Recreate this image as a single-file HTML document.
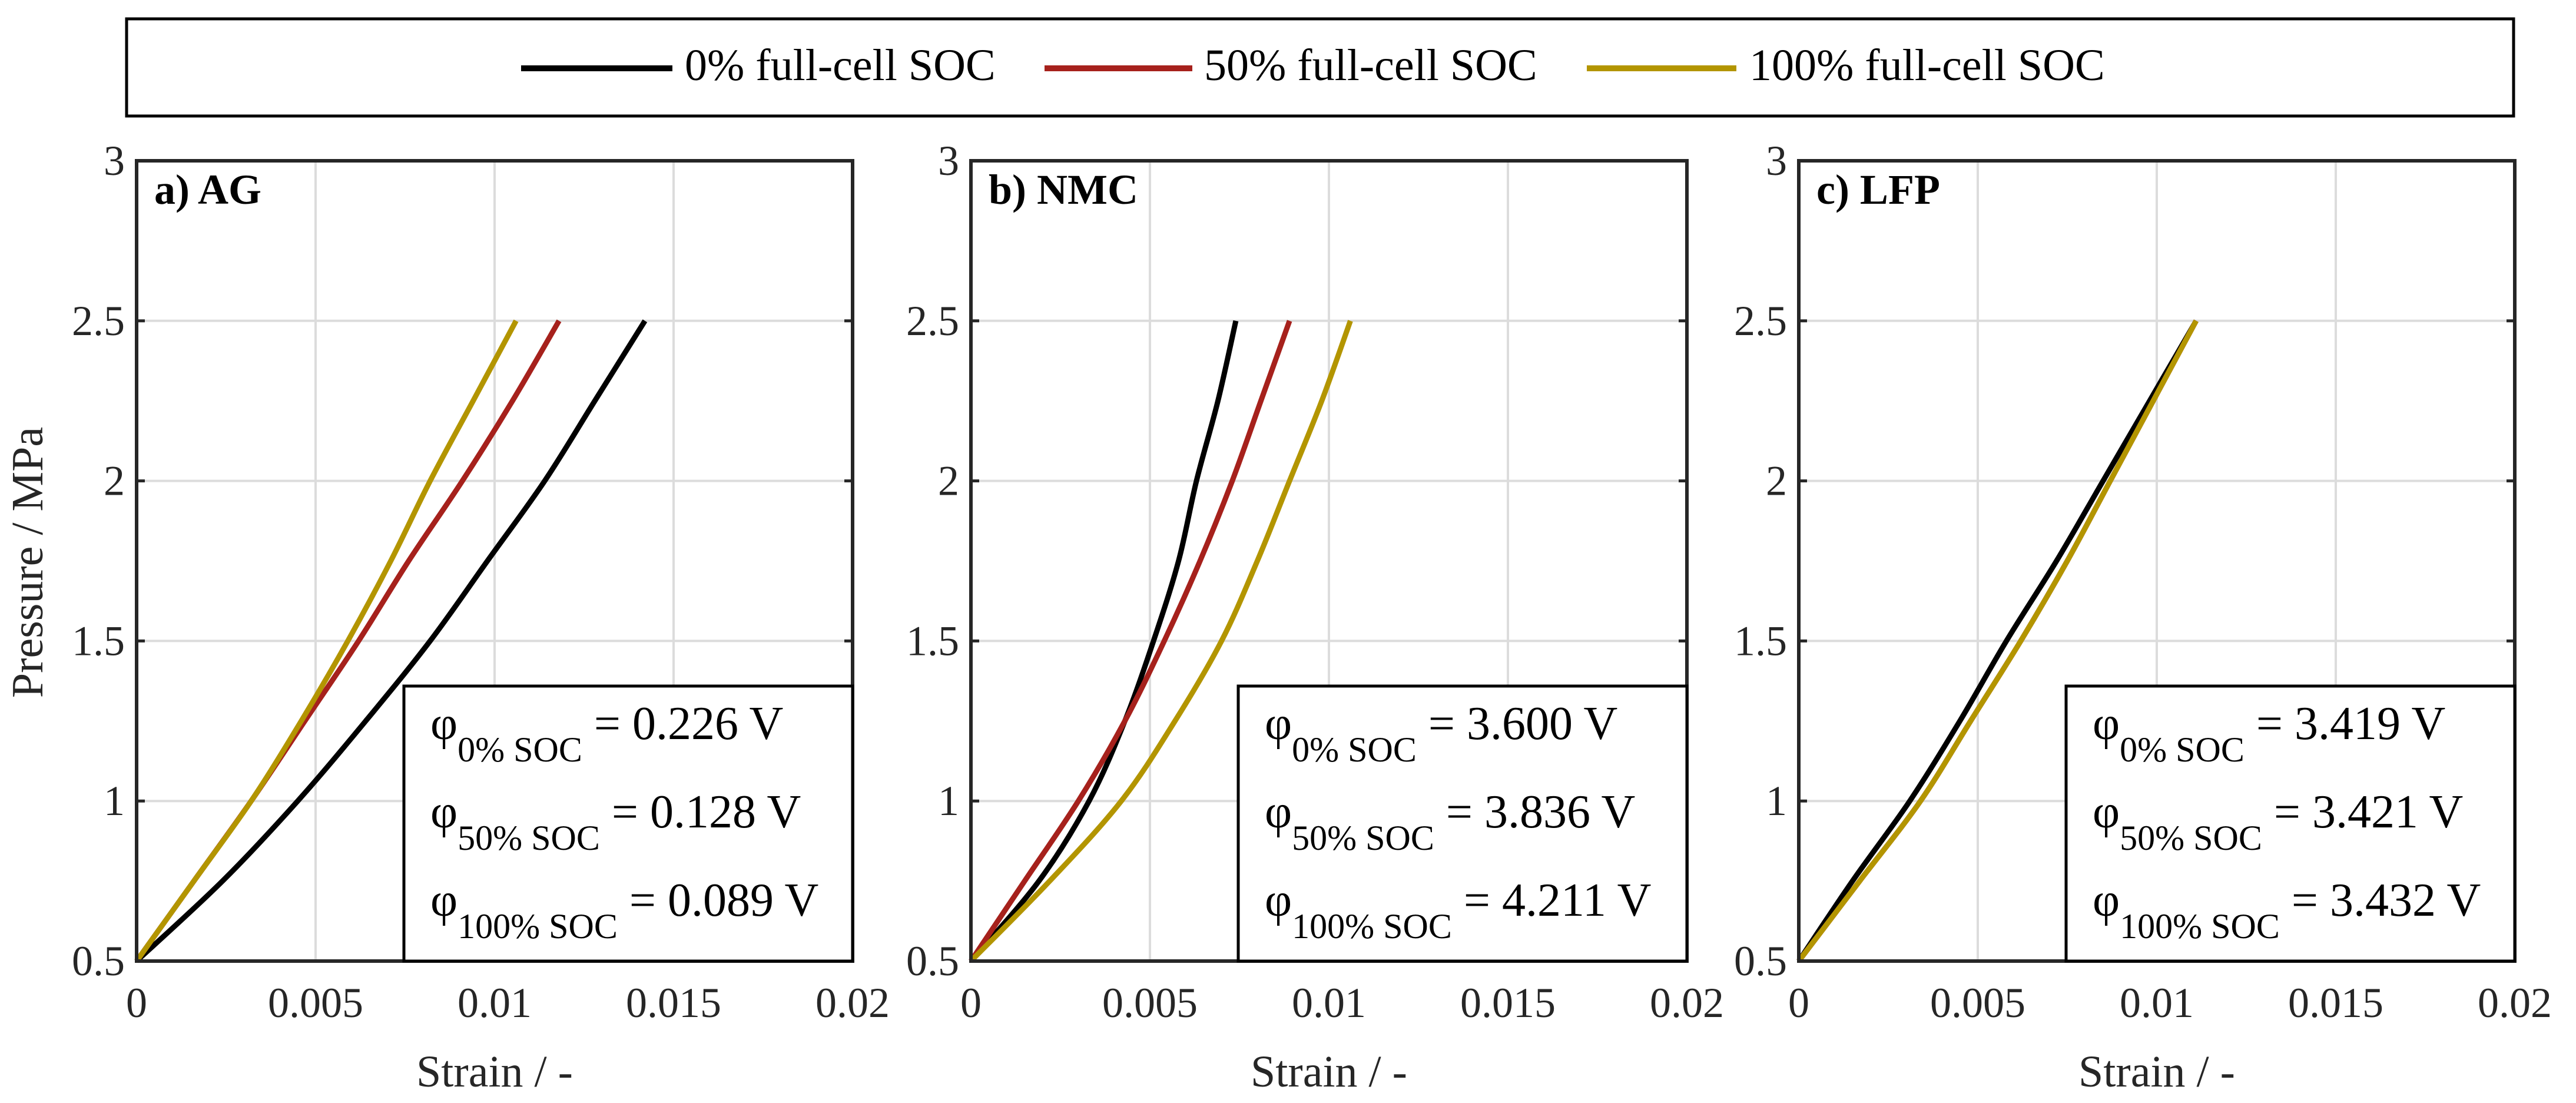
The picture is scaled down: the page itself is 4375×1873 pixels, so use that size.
<!DOCTYPE html>
<html><head><meta charset="utf-8"><style>
html,body{margin:0;padding:0;background:#fff;}
svg{display:block;font-family:"Liberation Serif",serif;}
</style></head><body>
<svg id="fig" width="4375" height="1873" viewBox="0 0 4375 1873" xmlns="http://www.w3.org/2000/svg">
<g>
<rect x="215" y="32" width="4054" height="165" fill="#fff" stroke="#000" stroke-width="5"/>
<line x1="885" y1="116" x2="1142" y2="116" stroke="#000" stroke-width="10"/>
<text x="1163" y="136" font-size="76">0% full-cell SOC</text>
<line x1="1774" y1="116" x2="2025" y2="116" stroke="#A6211C" stroke-width="10"/>
<text x="2045" y="136" font-size="76">50% full-cell SOC</text>
<line x1="2695" y1="116" x2="2949" y2="116" stroke="#B39500" stroke-width="10"/>
<text x="2971" y="136" font-size="76">100% full-cell SOC</text>
</g>
<text transform="translate(72,955) rotate(-90)" text-anchor="middle" font-size="76" fill="#262626">Pressure / MPa</text>
</svg>
<script>
const xTicks=[0,0.005,0.01,0.015,0.02];
const xTickLabels=["0","0.005","0.01","0.015","0.02"];
const yTicks=[0.5,1,1.5,2,2.5,3];
const yTickLabels=["0.5","1","1.5","2","2.5","3"];
const seriesColors=["#000000","#A6211C","#B39500"];
const seriesKeys=["0","50","100"];
const pressureLevels=[0.5,0.75,1.0,1.25,1.5,1.75,2.0,2.25,2.5];
// strain at each pressure level, per panel and series
const agStrain0=[0,0.0024,0.0045,0.0064,0.0082,0.0098,0.0114,0.0128,0.0142];
const agStrain50=[0,0.0016,0.0032,0.0047,0.0062,0.0076,0.0091,0.0105,0.0118];
const agStrain100=[0,0.0016,0.0032,0.0046,0.0059,0.0071,0.0082,0.0094,0.0106];
const nmcStrain0=[0,0.0019,0.0033,0.0043,0.0051,0.0058,0.0063,0.0069,0.0074];
const nmcStrain50=[0,0.0015,0.0030,0.0043,0.0054,0.0064,0.0073,0.0081,0.0089];
const nmcStrain100=[0,0.0022,0.0042,0.0057,0.0070,0.0080,0.0089,0.0098,0.0106];
const lfpStrain0=[0,0.0015,0.0031,0.0045,0.0058,0.0072,0.0085,0.0098,0.0111];
const lfpStrain50=[0,0.0017,0.0034,0.0048,0.0062,0.0075,0.0087,0.0099,0.0111];
const lfpStrain100=[0,0.0017,0.0034,0.0048,0.0062,0.0075,0.0087,0.0099,0.0111];
const panelTitles=["a) AG","b) NMC","c) LFP"];
const panelPhiLabels=[["0.226","0.128","0.089"],["3.600","3.836","4.211"],["3.419","3.421","3.432"]];
const panelSeries=[[agStrain0,agStrain50,agStrain100],[nmcStrain0,nmcStrain50,nmcStrain100],[lfpStrain0,lfpStrain50,lfpStrain100]];
const panelLeft=[232,1649,3055];

const NS="http://www.w3.org/2000/svg";
const svg=document.getElementById('fig');
function mk(tag,attrs,parent){const e=document.createElementNS(NS,tag);for(const k in attrs)e.setAttribute(k,attrs[k]);(parent||svg).appendChild(e);return e;}
const W=1216,TOP=273,BOT=1632;
function smooth(pts){let d=`M${pts[0][0]},${pts[0][1]}`;for(let i=0;i<pts.length-1;i++){const p0=pts[Math.max(0,i-1)],p1=pts[i],p2=pts[i+1],p3=pts[Math.min(pts.length-1,i+2)];const c1=[p1[0]+(p2[0]-p0[0])/6,p1[1]+(p2[1]-p0[1])/6],c2=[p2[0]-(p3[0]-p1[0])/6,p2[1]-(p3[1]-p1[1])/6];d+=` C${c1[0]},${c1[1]} ${c2[0]},${c2[1]} ${p2[0]},${p2[1]}`;}return d;}
panelTitles.forEach((title,pi)=>{
  const L=panelLeft[pi];
  const sx=v=>L+v/0.02*W, sy=v=>BOT-(v-0.5)/2.5*(BOT-TOP);
  const g=mk('g',{});
  
  
  xTicks.forEach((t,i)=>{
    if(i>0&&i<xTicks.length-1){const gl=mk('line',{x1:sx(t),x2:sx(t),y1:TOP,y2:BOT,stroke:'#dcdcdc','stroke-width':4},g);
    
    }
    const tl=mk('text',{x:sx(t),y:1727,'text-anchor':'middle','font-size':72,fill:'#262626'},g);tl.textContent=xTickLabels[i];
    
    
  });
  yTicks.forEach((t,i)=>{
    if(i>0&&i<yTicks.length-1){const gl=mk('line',{x1:L,x2:L+W,y1:sy(t),y2:sy(t),stroke:'#dcdcdc','stroke-width':4},g);
    
    
    mk('line',{x1:L,x2:L+14,y1:sy(t),y2:sy(t),stroke:'#262626','stroke-width':5},g);
    mk('line',{x1:L+W-14,x2:L+W,y1:sy(t),y2:sy(t),stroke:'#262626','stroke-width':5},g);}
    const tl=mk('text',{x:L-20,y:sy(t)+24,'text-anchor':'end','font-size':72,fill:'#262626'},g);tl.textContent=yTickLabels[i];
    
    
  });
  panelSeries[pi].forEach((arr,si)=>{
    const pts=arr.map((v,k)=>[sx(v),sy(pressureLevels[k])]);
    const p=mk('path',{d:smooth(pts),fill:'none',stroke:seriesColors[si],'stroke-width':9,'stroke-linejoin':'round'},g);
    
    
  });
  const box=mk('rect',{x:L,y:TOP,width:W,height:BOT-TOP,fill:'none',stroke:'#262626','stroke-width':6},g);
  
  
  const tt=mk('text',{x:L+30,y:346,'font-size':72,'font-weight':'bold'},g);tt.textContent=title;
  
  
  const ix=L+454;
  const ib=mk('rect',{x:ix,y:1165,width:L+W-ix,height:BOT-1165,fill:'#fff',stroke:'#000','stroke-width':5},g);
  
  
  ["0% SOC","50% SOC","100% SOC"].forEach((s,k)=>{
    const t=mk('text',{x:ix+45,y:1255+k*150,'font-size':80},g);
    t.innerHTML=`φ<tspan font-size="60" dy="38">${s}</tspan><tspan dy="-38"> = ${panelPhiLabels[pi][k]} V</tspan>`;
    
    
  });
  const xl=mk('text',{x:L+W/2,y:1845,'text-anchor':'middle','font-size':76,fill:'#262626'},g);xl.textContent='Strain / -';
  
  
});
</script>
</body></html>
